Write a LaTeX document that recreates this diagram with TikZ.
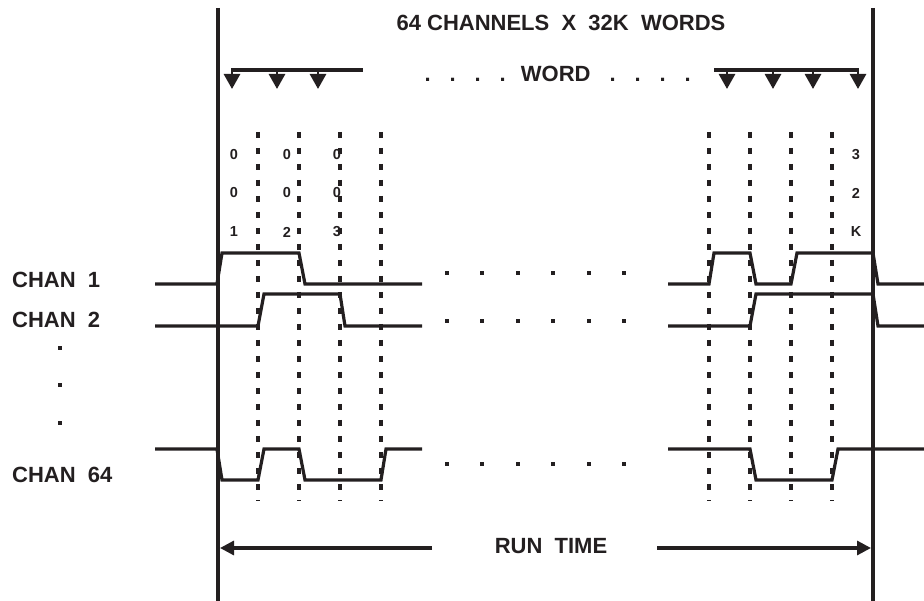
\documentclass[tikz,border=0pt]{standalone}
\usepackage{fontspec}
\setmainfont{Liberation Sans}
\usetikzlibrary{arrows.meta}
\definecolor{ink}{HTML}{231F20}
\begin{document}
\begin{tikzpicture}[x=1pt,y=-1pt,
  frame/.style={draw=ink,line width=4.2pt},
  sig/.style={draw=ink,line width=3.2pt,line join=miter},
  gridline/.style={draw=ink,line width=3.3pt,dash pattern=on 6pt off 10pt},
  wline/.style={draw=ink,line width=3.4pt},
  tick/.style={draw=ink,fill=ink,line width=2.8pt,-{Triangle[length=15pt,width=16pt]}},
  runarrow/.style={draw=ink,fill=ink,line width=3.2pt,-{Triangle[length=14pt,width=14pt]}},
  big/.style={text=ink,font=\bfseries\fontsize{22}{26}\selectfont,inner sep=0pt},
  small/.style={text=ink,font=\bfseries\fontsize{14.5}{16}\selectfont,inner sep=0pt},
  dotbox/.style={fill=ink,draw=none,rectangle,minimum size=4pt,inner sep=0pt}
]
\useasboundingbox (0,0) rectangle (924,601);

% frame lines
\coordinate (LT) at (218,8);  \coordinate (LB) at (218,601);
\coordinate (RT) at (873,8);  \coordinate (RB) at (873,601);
\draw[frame] (LT) -- (LB);
\draw[frame] (RT) -- (RB);

% title and word
\node[big] (title) at (561,23) {64 CHANNELS\ \ X\ \ 32K\ \ WORDS};
\node[big,anchor=base west] (word) at (424.5,82)
  {.\hspace{18.9pt}.\hspace{18.9pt}.\hspace{18.9pt}.\hspace{15pt}WORD\hspace{19pt}.\hspace{18.9pt}.\hspace{18.9pt}.\hspace{18.9pt}.};

% top word ticks
\coordinate (wl1) at (231,70); \coordinate (wl2) at (363,70);
\coordinate (wr1) at (714,70); \coordinate (wr2) at (859,70);
\draw[wline] (wl1) -- (wl2);
\draw[wline] (wr1) -- (wr2);
\foreach \x [count=\i] in {232,277,318,727,773,813,858}{
  \coordinate (ta\i) at (\x,69);
  \coordinate (tb\i) at (\x,89);
  \draw[tick] (ta\i) -- (tb\i);
}

% dotted grid
\foreach \x [count=\i] in {258,299,340,381,709,750,791,832}{
  \coordinate (ga\i) at (\x,132);
  \coordinate (gb\i) at (\x,501);
  \draw[gridline] (ga\i) -- (gb\i);
}

% word numbers
\foreach \x/\a/\b/\c [count=\i] in {234/0/0/1,287/0/0/2,337/0/0/3,856/3/2/K}{
  \node[small] (na\i) at (\x,155) {\a};
  \node[small] (nb\i) at (\x,193) {\b};
  \node[small] (nc\i) at (\x,232) {\c};
}

% channel labels
\node[big,anchor=west] (c1) at (12,280) {CHAN\ \ 1};
\node[big,anchor=west] (c2) at (12,320) {CHAN\ \ 2};
\node[big,anchor=west] (c64) at (12,475) {CHAN\ \ 64};
\foreach \y [count=\i] in {348,385,423}{
  \node[dotbox] (vd\i) at (60,\y) {};
}

% channel 1
\draw[sig] (155,284) -- (217,284) -- (222,253) -- (299,253) -- (305,284) -- (422,284);
\draw[sig] (668,284) -- (709,284) -- (714,253) -- (750,253) -- (756,284) -- (791,284)
  -- (797,253) -- (873,253) -- (878,284) -- (924,284);
% channel 2
\draw[sig] (155,326) -- (258,326) -- (264,294) -- (340,294) -- (345,326) -- (422,326);
\draw[sig] (668,326) -- (750,326) -- (756,294) -- (873,294) -- (878,326) -- (924,326);
% channel 64
\draw[sig] (155,449) -- (217,449) -- (222,480) -- (258,480) -- (264,449) -- (299,449)
  -- (305,480) -- (381,480) -- (386,449) -- (422,449);
\draw[sig] (668,449) -- (750,449) -- (756,480) -- (832,480) -- (838,449) -- (924,449);

% middle continuation dots
\foreach \y [count=\j] in {273,321,464}{
  \foreach \x [count=\i] in {447,482,518,553,589,624}{
    \node[dotbox] (md\j-\i) at (\x,\y) {};
  }
}

% run time
\node[big] (run) at (551,546) {RUN\ \ TIME};
\coordinate (ra) at (432,548); \coordinate (rat) at (220,548);
\coordinate (rb) at (657,548); \coordinate (rbt) at (871,548);
\draw[runarrow] (ra) -- (rat);
\draw[runarrow] (rb) -- (rbt);
\end{tikzpicture}
\end{document}
